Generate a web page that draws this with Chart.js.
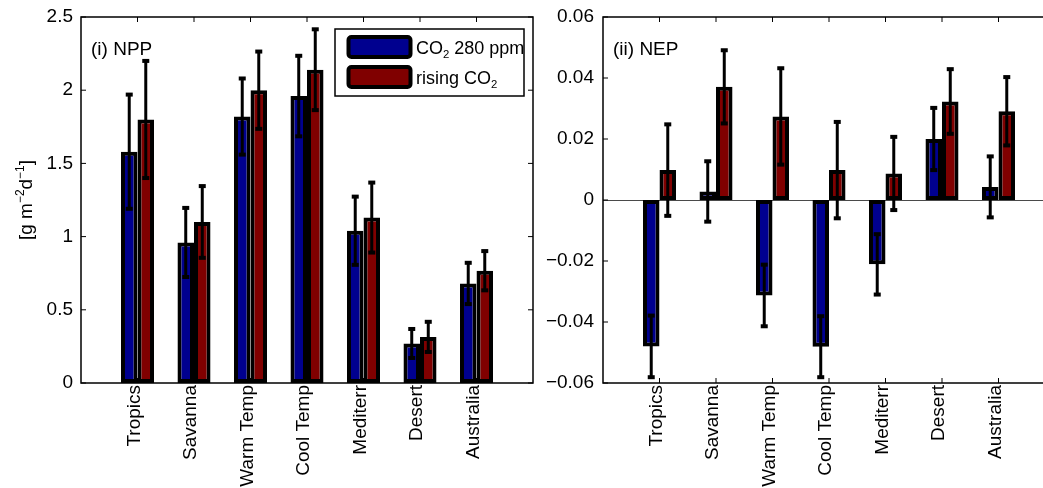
<!DOCTYPE html>
<html><head><meta charset="utf-8">
<script src="https://cdn.jsdelivr.net/npm/chart.js@4.4.0/dist/chart.umd.min.js"></script>
<style>
html,body{margin:0;padding:0;background:#fff;overflow:hidden;width:1043px;height:488px;}
#wrap{position:relative;width:1043px;height:488px;overflow:hidden;background:#fff;}
canvas{position:absolute;top:0;}
#c1{left:0;} #c2{left:540px;}
</style></head><body>
<div id="wrap"><canvas id="c1" width="545" height="488"></canvas><canvas id="c2" width="530" height="488"></canvas></div>
<script>
const categories = ['Tropics','Savanna','Warm Temp','Cool Temp','Mediterr','Desert','Australia'];
const seriesLabels = ['CO₂ 280 ppm','rising CO₂'];
const seriesColors = ['#00008f','#800000'];
const nppPre     = [1.58, 0.96, 1.82, 1.96, 1.04, 0.27, 0.68];
const nppPreErr  = [0.39, 0.236, 0.26, 0.275, 0.233, 0.099, 0.141];
const nppRise    = [1.80, 1.10, 2.00, 2.14, 1.13, 0.315, 0.767];
const nppRiseErr = [0.40, 0.245, 0.264, 0.276, 0.239, 0.103, 0.134];
const nepPre     = [-0.048, 0.0028, -0.0313, -0.0481, -0.0211, 0.0200, 0.0043];
const nepPreErr  = [0.0101, 0.0099, 0.0101, 0.0100, 0.0099, 0.0102, 0.0100];
const nepRise    = [0.0098, 0.0371, 0.0274, 0.0098, 0.0087, 0.0323, 0.0291];
const nepRiseErr = [0.0150, 0.0120, 0.0158, 0.0158, 0.0120, 0.0106, 0.0112];
const nppTicks = [0, 0.5, 1, 1.5, 2, 2.5];
const nepTicks = [-0.06, -0.04, -0.02, 0, 0.02, 0.04, 0.06];
const panelTitles = ['(i) NPP', '(ii) NEP'];
const yTitle = '[g m⁻²d⁻¹]';

const FONT = '"Liberation Sans", Arial, Helvetica, sans-serif';
const FS = 19;
const SUP = {'⁻':'−','²':'2','¹':'1'};
const SUB = {'₂':'2'};

function runs(text){
  const out=[];
  for(const ch of text){
    const t = SUP[ch]!==undefined ? 'sup' : (SUB[ch]!==undefined ? 'sub' : 'n');
    const c = t==='sup'?SUP[ch]:(t==='sub'?SUB[ch]:ch);
    if(out.length && out[out.length-1].t===t) out[out.length-1].s+=c; else out.push({t, s:c});
  }
  return out;
}
function drawRich(ctx, text, x, y, size, draw){
  let cx=x;
  for(const r of runs(text)){
    let fs=size, dy=0;
    if(r.t==='sup'){fs=size*0.63; dy=-size*0.42;}
    if(r.t==='sub'){fs=size*0.63; dy=size*0.26;}
    ctx.font = fs+'px '+FONT;
    if(draw) ctx.fillText(r.s, cx, y+dy);
    cx += ctx.measureText(r.s).width;
  }
  return cx-x;
}

const padLabels = ['', ...categories, ''];
const pad = a => [null, ...a, null];

const matPlugin = {
  id:'mat',
  beforeDatasetsDraw(chart, args, o){
    if(!o.zeroLine) return;
    const {ctx, chartArea:{left,right}, scales:{y}} = chart;
    const y0 = Math.round(y.getPixelForValue(0))+0.5;
    ctx.save(); ctx.strokeStyle='#4a4a4a'; ctx.lineWidth=1;
    ctx.beginPath(); ctx.moveTo(left,y0); ctx.lineTo(right,y0); ctx.stroke(); ctx.restore();
  },
  afterDatasetsDraw(chart, args, o){
    const {ctx, chartArea:{left,right,top,bottom}, scales:{x,y}} = chart;
    ctx.save();
    // error bars
    ctx.strokeStyle='#000'; ctx.fillStyle='#000';
    chart.data.datasets.forEach((ds, di)=>{
      const meta = chart.getDatasetMeta(di);
      meta.data.forEach((bar, i)=>{
        const v = ds.data[i]; if(v==null) return;
        const e = ds.errors[i];
        const px = bar.x;
        const y1 = y.getPixelForValue(v+e), y2 = y.getPixelForValue(v-e);
        ctx.lineWidth=3;
        ctx.beginPath(); ctx.moveTo(px,y1); ctx.lineTo(px,y2); ctx.stroke();
        ctx.fillRect(px-3.5, y1-2, 7, 4);
        ctx.fillRect(px-3.5, y2-2, 7, 4);
      });
    });
    // frame
    ctx.lineWidth=1.5; ctx.strokeStyle='#000';
    ctx.strokeRect(left, top, right-left, bottom-top);
    ctx.lineWidth=1;
    ctx.beginPath();
    y.ticks.forEach(t=>{
      const py = y.getPixelForValue(t.value);
      ctx.moveTo(left,py); ctx.lineTo(left+5,py);
      ctx.moveTo(right,py); ctx.lineTo(right-5,py);
    });
    for(let i=1;i<=categories.length;i++){
      const px = x.getPixelForValue(i);
      ctx.moveTo(px,top); ctx.lineTo(px,top+5);
      ctx.moveTo(px,bottom); ctx.lineTo(px,bottom-5);
    }
    ctx.stroke();
    // panel label
    ctx.fillStyle='#000'; ctx.textAlign='left'; ctx.textBaseline='alphabetic';
    ctx.font = FS+'px '+FONT;
    ctx.fillText(o.title, left+o.titleDx, 55);
    // y title
    if(o.yTitle){
      ctx.save();
      ctx.translate(o.yTitleX, (top+bottom)/2);
      ctx.rotate(-Math.PI/2);
      const w = drawRich(ctx, o.yTitle, 0, 0, FS, false);
      drawRich(ctx, o.yTitle, -w/2, 0, FS, true);
      ctx.restore();
    }
    // legend
    if(o.legend){
      const L = o.legend;
      ctx.lineWidth=1.5; ctx.strokeStyle='#000';
      ctx.fillStyle='#fff';
      ctx.fillRect(L.x, L.y, L.w, L.h);
      ctx.strokeRect(L.x, L.y, L.w, L.h);
      chart.data.datasets.forEach((ds, di)=>{
        const ry = L.y + 8 + di*30;
        ctx.beginPath();
        ctx.roundRect(L.x+13.5, ry, 62, 20, 3);
        ctx.fillStyle = ds.backgroundColor;
        ctx.fill();
        ctx.lineWidth=4; ctx.strokeStyle='#000'; ctx.stroke();
        ctx.fillStyle='#000';
        drawRich(ctx, ds.label, L.x+81, ry+16.5, 18, true);
      });
    }
    ctx.restore();
  }
};

function yFmt(v){
  const r = Math.round(v*1000)/1000;
  if(r===0) return '0';
  return (r<0?'−':'') + String(Math.abs(r));
}

function makeChart(id, pre, preErr, rise, riseErr, yMin, yMax, yTicks, yWidth, padRight, yPad, extra){
  return new Chart(document.getElementById(id), {
    type:'bar',
    data:{
      labels: padLabels,
      datasets:[
        {label: seriesLabels[0], data: pad(pre), errors: pad(preErr), backgroundColor: seriesColors[0], borderColor:'#000', borderWidth:4, borderSkipped:false},
        {label: seriesLabels[1], data: pad(rise), errors: pad(riseErr), backgroundColor: seriesColors[1], borderColor:'#000', borderWidth:4, borderSkipped:false}
      ]
    },
    options:{
      responsive:false, animation:false, devicePixelRatio:1,
      categoryPercentage:0.585, barPercentage:1,
      layout:{padding:{top:17, right:padRight, left:0, bottom:0}},
      plugins:{legend:{display:false}, tooltip:{enabled:false}, mat: extra},
      scales:{
        x:{
          offset:false,
          grid:{display:false, drawTicks:false}, border:{display:false},
          ticks:{autoSkip:false, minRotation:90, maxRotation:90, padding:2, labelOffset:-3, color:'#000', font:{family:FONT, size:FS},
                 callback:(v,i)=>padLabels[i]},
          afterFit(s){ s.height = 105; s.paddingLeft=0; s.paddingRight=0; }
        },
        y:{
          min:yMin, max:yMax,
          grid:{display:false, drawTicks:false}, border:{display:false},
          afterBuildTicks(s){ s.ticks = yTicks.map(v=>({value:v})); },
          ticks:{padding:yPad, color:'#000', font:{family:FONT, size:FS}, callback:v=>yFmt(v)},
          afterFit(s){ s.width = yWidth; s.paddingTop=0; s.paddingBottom=0; }
        }
      }
    },
    plugins:[matPlugin]
  });
}

makeChart('c1', nppPre, nppPreErr, nppRise, nppRiseErr, 0, 2.5, nppTicks, 81, 12, 8,
  {title: panelTitles[0], titleDx: 10, yTitle: yTitle, yTitleX: 32, legend:{x:335, y:29, w:189, h:67}});
makeChart('c2', nepPre, nepPreErr, nepRise, nepRiseErr, -0.06, 0.06, nepTicks, 63, 15, 9,
  {title: panelTitles[1], titleDx: 10, zeroLine:true});
</script>
</body></html>
